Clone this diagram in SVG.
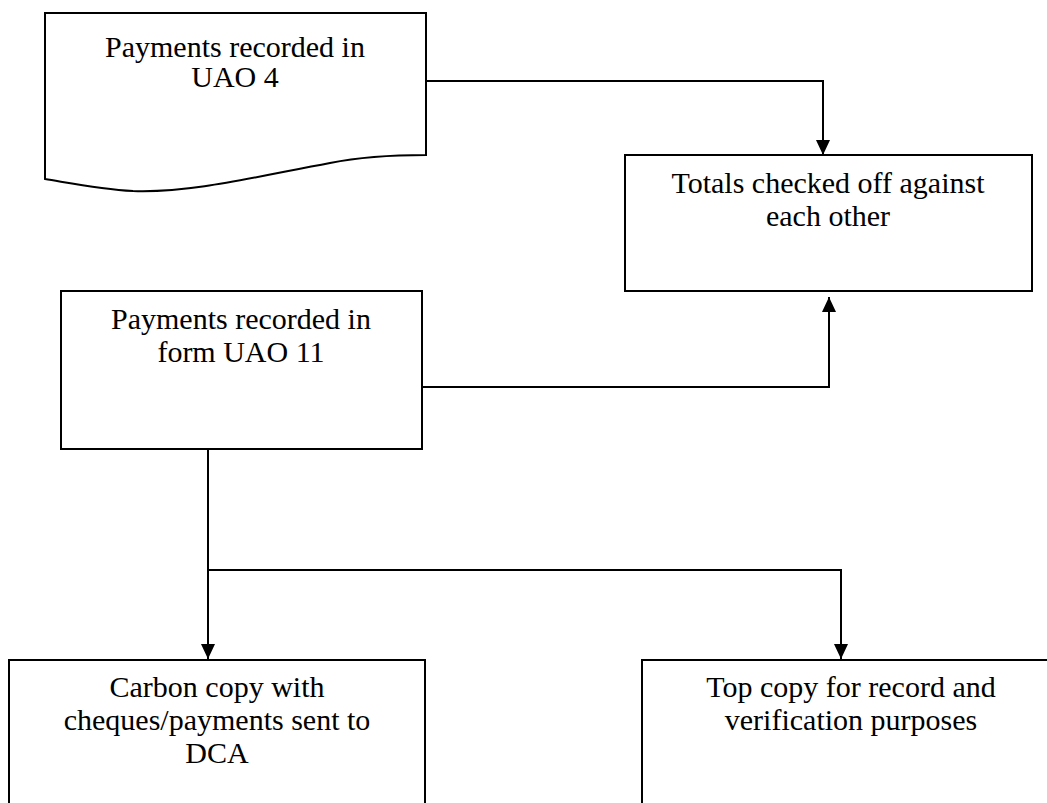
<svg xmlns="http://www.w3.org/2000/svg" width="1047" height="803" viewBox="0 0 1047 803">
  <style>
    .box { fill: #ffffff; stroke: #000000; stroke-width: 2; }
    .lbl { font-family: "Liberation Serif", "Times New Roman", serif; font-size: 30px; fill: #000000; text-anchor: middle; }
    .conn { fill: none; stroke: #000000; stroke-width: 2; }
  </style>
  <defs>
    <marker id="arrow" markerWidth="15" markerHeight="14" refX="15" refY="7" orient="auto" markerUnits="userSpaceOnUse">
      <path d="M0,0 L15,7 L0,14 Z" fill="#000000"/>
    </marker>
  </defs>
  <rect width="1047" height="803" fill="#ffffff"/>

  <!-- Document shape: payments in UAO 4 -->
  <g id="uao4">
    <path class="box" d="M45,13 L426,13 L426,155 C390,155 360,157 330,163 C250,178 190,193 133,191 C100,189 70,183 45,179 Z"/>
    <text class="lbl" x="235" y="57">Payments recorded in</text>
    <text class="lbl" x="235" y="87">UAO 4</text>
  </g>

  <!-- Totals check -->
  <g id="totals">
    <rect class="box" x="625" y="155" width="407" height="136"/>
    <text class="lbl" x="828" y="193">Totals checked off against</text>
    <text class="lbl" x="828" y="226">each other</text>
  </g>

  <!-- Form UAO 11 -->
  <g id="uao11">
    <rect class="box" x="61" y="291" width="361" height="158"/>
    <text class="lbl" x="241" y="329">Payments recorded in</text>
    <text class="lbl" x="241" y="362">form UAO 11</text>
  </g>

  <!-- Carbon copy -->
  <g id="carbon">
    <rect class="box" x="9" y="660" width="416" height="160"/>
    <text class="lbl" x="217" y="697">Carbon copy with</text>
    <text class="lbl" x="217" y="730">cheques/payments sent to</text>
    <text class="lbl" x="217" y="763">DCA</text>
  </g>

  <!-- Top copy -->
  <g id="topcopy">
    <rect class="box" x="642" y="660" width="420" height="160"/>
    <text class="lbl" x="851" y="697">Top copy for record and</text>
    <text class="lbl" x="851" y="730">verification purposes</text>
  </g>

  <g id="connectors">
    <polyline class="conn" points="426,81 823,81 823,155" marker-end="url(#arrow)"/>
    <polyline class="conn" points="422,387 829,387 829,297" marker-end="url(#arrow)"/>
    <polyline class="conn" points="208,449 208,659" marker-end="url(#arrow)"/>
    <polyline class="conn" points="208,570 841,570 841,659" marker-end="url(#arrow)"/>
  </g>
</svg>
